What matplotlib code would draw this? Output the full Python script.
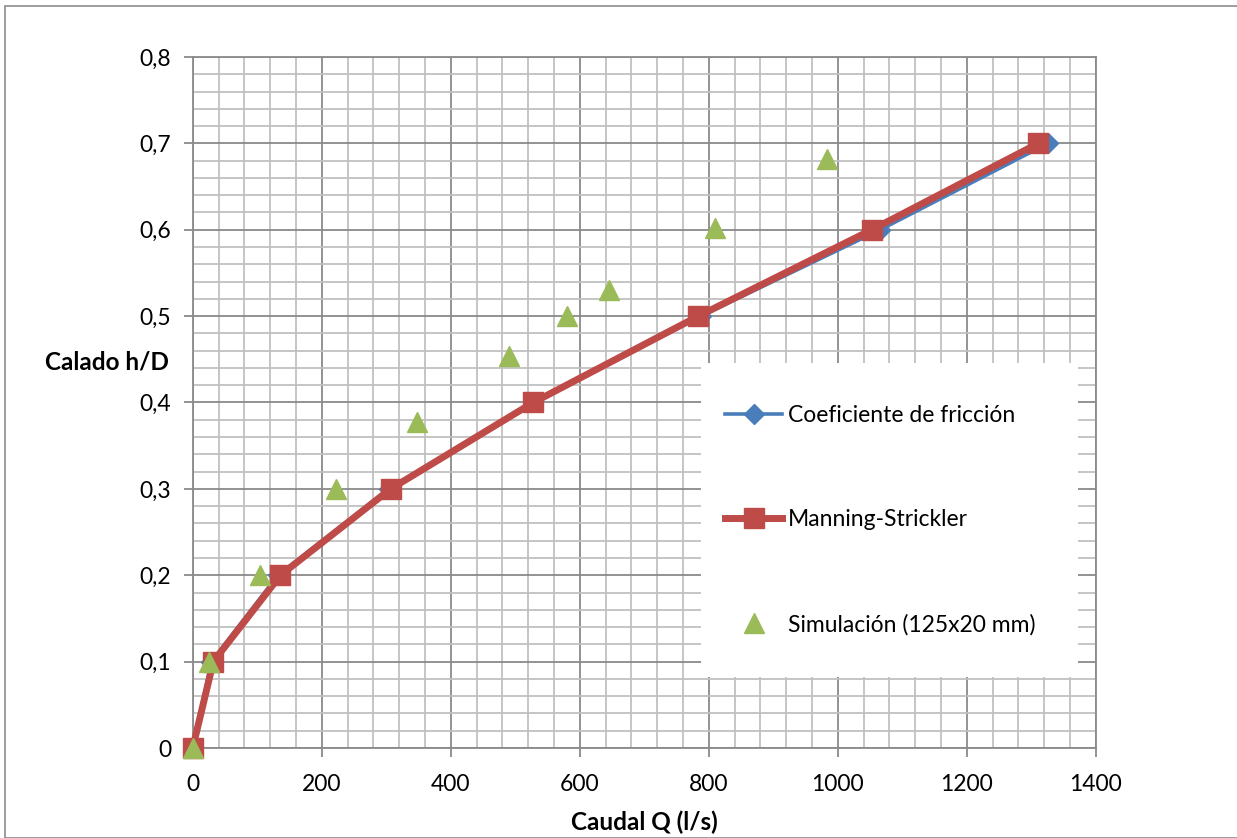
import matplotlib
matplotlib.use("Agg")
import matplotlib.pyplot as plt
from matplotlib.ticker import MultipleLocator, FuncFormatter
from matplotlib.patches import Rectangle

plt.rcParams['font.family'] = ['Lato', 'DejaVu Sans']

# Relative depth h/D
h_d = [0.0, 0.1, 0.2, 0.3, 0.4, 0.5, 0.6, 0.7]
# Flow (l/s) from the friction-coefficient method
q_friccion = [0, 29, 132, 304, 527, 788, 1066, 1326]
# Flow (l/s) from Manning-Strickler
q_manning = [0, 32, 136, 307, 528, 784, 1053, 1311]

# Simulation results (125x20 mm)
q_sim = [0, 25, 104, 222, 347, 490, 580, 645, 809, 984]
h_sim = [0.0, 0.1, 0.2, 0.3, 0.377, 0.454, 0.5, 0.53, 0.602, 0.682]

x_ticks = [0, 200, 400, 600, 800, 1000, 1200, 1400]
y_ticks = [0, 0.1, 0.2, 0.3, 0.4, 0.5, 0.6, 0.7, 0.8]

W, H = 1237, 838
fig = plt.figure(figsize=(W / 100, H / 100), dpi=100)

# outer chart frame
fig.patches.append(Rectangle((5 / W, 0), (W - 4) / W, (H - 6) / H, transform=fig.transFigure,
                             fill=False, edgecolor='#8c8c8c', linewidth=1.2))

ax = fig.add_axes([192.7 / W, (H - 748) / H, 903 / W, 691 / H])

major_c = '#8a8a8a'
minor_c = '#c0c0c0'

ax.set_xlim(0, 1400)
ax.set_ylim(0, 0.8)
ax.xaxis.set_major_locator(MultipleLocator(200))
ax.xaxis.set_minor_locator(MultipleLocator(40))
ax.yaxis.set_major_locator(MultipleLocator(0.1))
ax.yaxis.set_minor_locator(MultipleLocator(0.02))
ax.set_xticks(x_ticks)
ax.set_yticks(y_ticks)
ax.xaxis.set_major_formatter(FuncFormatter(lambda v, p: f"{v:.0f}"))
ax.yaxis.set_major_formatter(FuncFormatter(lambda v, p: "0" if abs(v) < 1e-9 else f"{v:.1f}".replace('.', ',')))

ax.set_axisbelow(True)
ax.grid(which='minor', color=minor_c, linewidth=1.3)
ax.grid(which='major', color=major_c, linewidth=1.3)
for s in ax.spines.values():
    s.set_color(major_c)
    s.set_linewidth(1.3)
ax.tick_params(which='major', direction='out', length=6.5, width=1.3, color=major_c,
               labelsize=16.5, pad=9)
ax.tick_params(axis='x', which='major', pad=12)
ax.tick_params(which='minor', length=0)

ax.plot(q_friccion, h_d, color='#4a7ebb', linewidth=2.6, marker='D', markersize=10,
        markerfacecolor='#4a7ebb', markeredgecolor='#4a7ebb', zorder=3, clip_on=False,
        label='Coeficiente de fricción')
ax.plot(q_manning, h_d, color='#be4b48', linewidth=5, marker='s', markersize=14,
        markerfacecolor='#be4b48', markeredgecolor='#be4b48', zorder=4, clip_on=False,
        label='Manning-Strickler')
ax.plot(q_sim, h_sim, linestyle='none', color='#9bbb59', marker='^', markersize=15,
        markeredgecolor='#9bbb59', zorder=5, clip_on=False, label='Simulación (125x20 mm)')

# legend background
ax.add_patch(Rectangle((0.563, 0.103), 0.417, 0.454, transform=ax.transAxes,
                       facecolor='white', edgecolor='none', zorder=2))
leg = ax.legend(loc='center left', bbox_to_anchor=(0.5895, 0.33), frameon=False,
                fontsize=16.5, handlelength=2.5, handletextpad=0.25, labelspacing=3.65,
                borderpad=0, borderaxespad=0)
leg.set_zorder(6)

fig.text(107 / W, 1 - 362 / H, 'Calado h/D', fontsize=17.5, fontweight='bold',
         ha='center', va='center')
fig.text(644 / W, 1 - 822 / H, 'Caudal Q (l/s)', fontsize=17.5, fontweight='bold',
         ha='center', va='center')

fig.savefig('out.png', dpi=100)
